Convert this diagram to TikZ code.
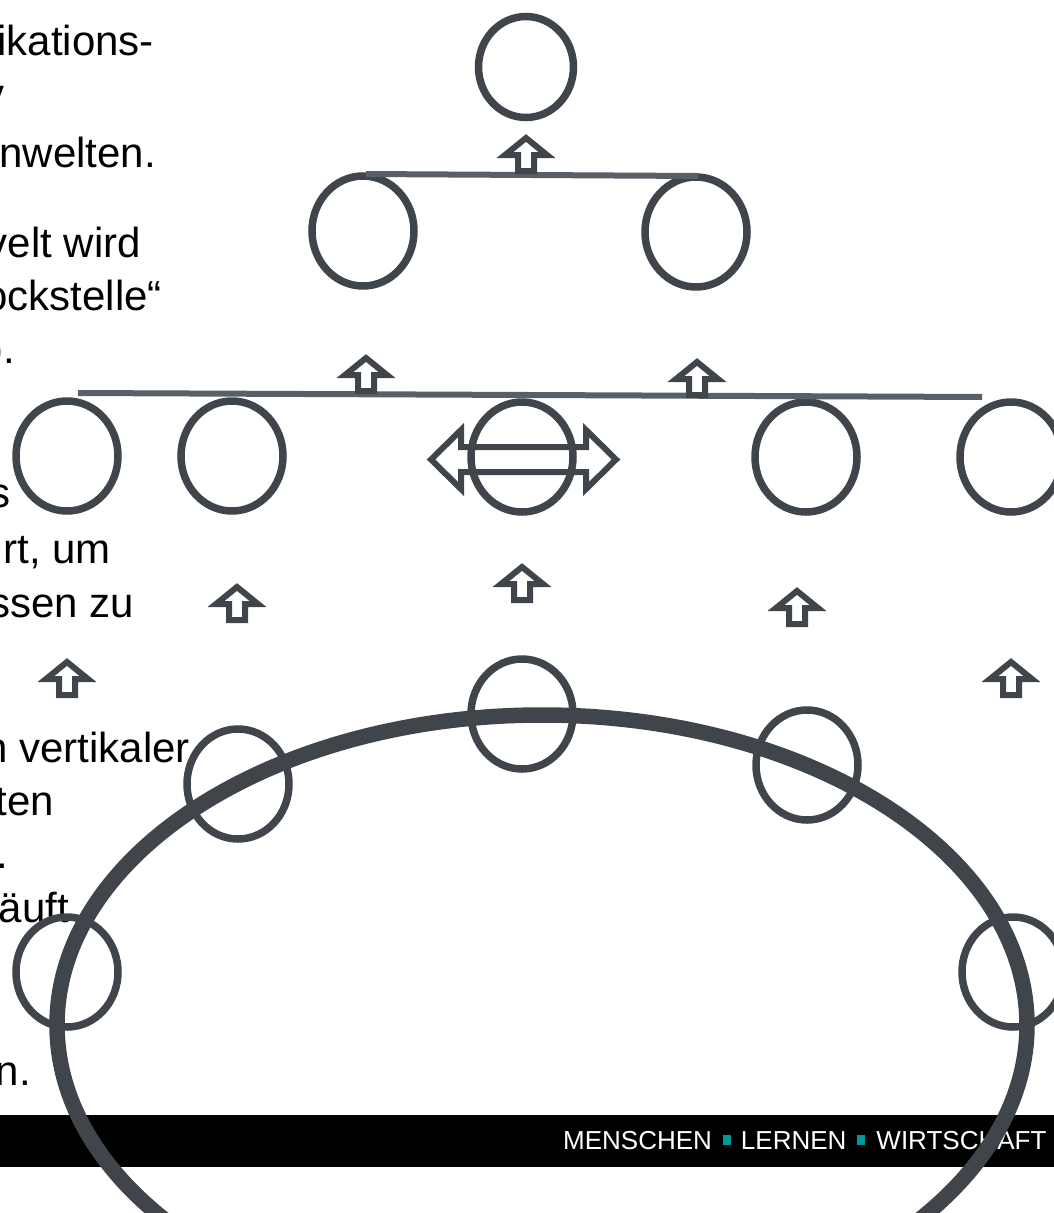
\documentclass[tikz,border=0pt]{standalone}
\usepackage{fontspec}
\setmainfont{Liberation Sans}
\usetikzlibrary{shapes.geometric}
\definecolor{ink}{RGB}{63,69,75}
\definecolor{barline}{RGB}{88,95,102}
\definecolor{sq}{RGB}{0,153,153}

\begin{document}
\begin{tikzpicture}[x=1pt,y=-1pt,
  ring/.style={shape=ellipse, draw=ink, line width=7.5pt, inner sep=0pt,
               minimum width=102pt, minimum height=110pt},
  topring/.style={ring, minimum width=95pt, minimum height=101pt},
  bigring/.style={shape=ellipse, draw=ink, line width=15.5pt, inner sep=0pt,
               minimum width=970pt, minimum height=620pt},
  txt/.style={inner sep=0pt, anchor=base east, text=black,
              font=\fontsize{42}{50}\selectfont},
  bar/.style={draw=barline, line width=6pt},
  blockarrow/.style={draw=ink, line width=6pt, line join=miter, miter limit=10},
  uparrow/.pic={\draw[blockarrow] (0,4) -- (21,21) -- (8,21) -- (8,37)
                 -- (-8,37) -- (-8,21) -- (-21,21) -- cycle;}
]
\useasboundingbox (0,0) rectangle (1054,1213);
\clip (0,0) rectangle (1054,1213);

% body text, running off the left edge
\node[txt] (t1)  at (154,55)   {ikations-};
\node[txt] (t2)  at (5,108)    {v};
\node[txt] (t3)  at (156,167)  {nwelten.};
\node[txt] (t4)  at (141,257)  {velt wird};
\node[txt] (t5)  at (162,310)  {ockstelle“};
\node[txt] (t6)  at (15.5,363) {).};
\node[txt] (t7)  at (11,507)   {s};
\node[txt] (t8)  at (111,563)  {rt, um};
\node[txt] (t9)  at (134,617)  {ssen zu};
\node[txt] (t10) at (190,762)  {n vertikaler};
\node[txt] (t11) at (54,815)   {ten};
\node[txt] (t12) at (8,868)    {.};
\node[txt] (t13) at (69,922)   {äuft};
\node[txt] (t14) at (31,1085)  {n.};

% footer bar
\fill[black] (0,1115) rectangle (1054,1167);
\node[anchor=base west, inner sep=0pt, text=white,
      font=\fontsize{26}{30}\selectfont] (foot) at (563,1149)
  {MENSCHEN\hspace{11pt}\textcolor{sq}{\rule[4pt]{8pt}{10pt}}\hspace{10pt}LERNEN\hspace{11pt}\textcolor{sq}{\rule[4pt]{8pt}{10pt}}\hspace{11pt}WIRTSCHAFT};

% top level
\node[topring] (c0) at (526,67) {};

% second level
\node[ring] (c2a) at (363,231) {};
\node[ring] (c2b) at (696,232) {};

% third level
\node[ring] (c3a) at (67,456) {};
\node[ring] (c3b) at (232,456) {};
\node[ring] (c3c) at (522,457) {};
\node[ring] (c3d) at (806,457) {};
\node[ring] (c3e) at (1011,457) {};

% circles sitting on the big ring
\node[ring] (c4a) at (522,714) {};
\node[ring] (c4b) at (238,784) {};
\node[ring] (c4c) at (807,765) {};
\node[ring] (c4d) at (67,972) {};
\node[ring] (c4e) at (1013,972) {};

% grouping bars
\coordinate (b1l) at (366,174);
\coordinate (b1r) at (698,176);
\coordinate (b2l) at (78,393);
\coordinate (b2r) at (982,397);
\draw[bar] (b1l) -- (b1r);
\draw[bar] (b2l) -- (b2r);

% upward block arrows
\pic (u1) at (526,134) {uparrow};
\pic (u2) at (366,354) {uparrow};
\pic (u3) at (697,358) {uparrow};
\pic (u4) at (237,583) {uparrow};
\pic (u5) at (522,563) {uparrow};
\pic (u6) at (67,658)  {uparrow};
\pic (u7) at (797,587) {uparrow};
\pic (u8) at (1011,658) {uparrow};

% double-headed block arrow across the middle circle
\draw[blockarrow, line width=6pt]
  (431,459.5) -- (461,430) -- (461,447) -- (586,447) -- (586,430)
  -- (616,459.5) -- (586,489) -- (586,472) -- (461,472) -- (461,489) -- cycle;

% the big ring
\node[bigring] (ring) at (542,1025) {};
\end{tikzpicture}
\end{document}
